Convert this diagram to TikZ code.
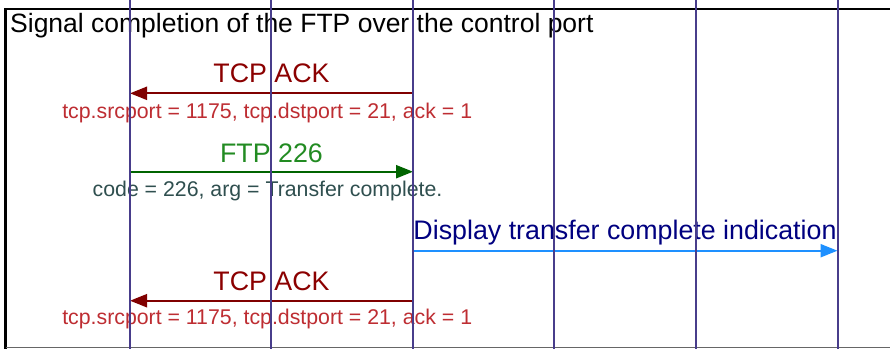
\documentclass[tikz,border=0pt]{standalone}
\usepackage{fontspec}
\setmainfont{Liberation Sans}
\usetikzlibrary{arrows.meta}
\definecolor{lifec}{HTML}{483D8B}
\definecolor{ackline}{HTML}{800000}
\definecolor{acktext}{HTML}{8B0000}
\definecolor{acksub}{HTML}{BE2D32}
\definecolor{ftpline}{HTML}{006400}
\definecolor{ftptext}{HTML}{228B22}
\definecolor{ftpsub}{HTML}{2F4F4F}
\definecolor{displine}{HTML}{1E90FF}
\definecolor{disptext}{HTML}{000080}
\begin{document}
\begin{tikzpicture}[x=1pt,y=-1pt,
  life/.style={draw=lifec, line width=2pt},
  msg/.style={line width=2.2pt, -{Triangle[length=17pt,width=13pt]}},
  mainlbl/.style={anchor=base, inner sep=0pt, font=\fontsize{26.8}{26.8}\selectfont},
  sublbl/.style={anchor=base, inner sep=0pt, font=\fontsize{21.3}{21.3}\selectfont},
  frame/.style={draw=black, line width=2.4pt}]
\useasboundingbox (0,0) rectangle (890,349);
\fill[white] (0,0) rectangle (890,349);
% frame
\coordinate (ftl) at (5.5,9);
\coordinate (ftr) at (890,9);
\coordinate (fbl) at (5.5,349);
\coordinate (fbbl) at (5.5,347.5);
\coordinate (fbbr) at (890,347.5);
\draw[frame] (ftr) -- (ftl) -- (fbl);
\draw[black!60, line width=1.2pt] (fbbl) -- (fbbr);
\node[anchor=base west, inner sep=0pt, font=\fontsize{26.5}{26.5}\selectfont] (title) at (10,32) {Signal completion of the FTP over the control port};
% messages
\coordinate (a1s) at (413,93.3);
\coordinate (a1e) at (130,93.3);
\draw[msg, ackline] (a1s) -- (a1e);
\node[mainlbl, acktext] (a1l) at (271.5,82.8) {TCP ACK};
\node[sublbl, acksub] (a1sl) at (267.2,118.2) {tcp.srcport = 1175, tcp.dstport = 21, ack = 1};

\coordinate (a2s) at (130,171.7);
\coordinate (a2e) at (413,171.7);
\draw[msg, ftpline] (a2s) -- (a2e);
\node[mainlbl, ftptext] (a2l) at (271.5,162.3) {FTP 226};
\node[sublbl, ftpsub] (a2sl) at (267.5,196.6) {code = 226, arg = Transfer complete.};

\coordinate (a3s) at (413,250.7);
\coordinate (a3e) at (837.5,250.7);
\draw[msg, displine] (a3s) -- (a3e);
\node[mainlbl, disptext] (a3l) at (625,239.3) {Display transfer complete indication};

\coordinate (a4s) at (413,300.7);
\coordinate (a4e) at (130,300.7);
\draw[msg, ackline] (a4s) -- (a4e);
\node[mainlbl, acktext] (a4l) at (271.5,290.2) {TCP ACK};
\node[sublbl, acksub] (a4sl) at (267.2,324.6) {tcp.srcport = 1175, tcp.dstport = 21, ack = 1};
% lifelines
\foreach \i/\x in {1/130,2/271,3/413.3,4/554.3,5/696,6/837.5}{
  \coordinate (L\i t) at (\x,0);
  \coordinate (L\i b) at (\x,349);
  \draw[life] (L\i t) -- (L\i b);
}
\end{tikzpicture}
\end{document}
